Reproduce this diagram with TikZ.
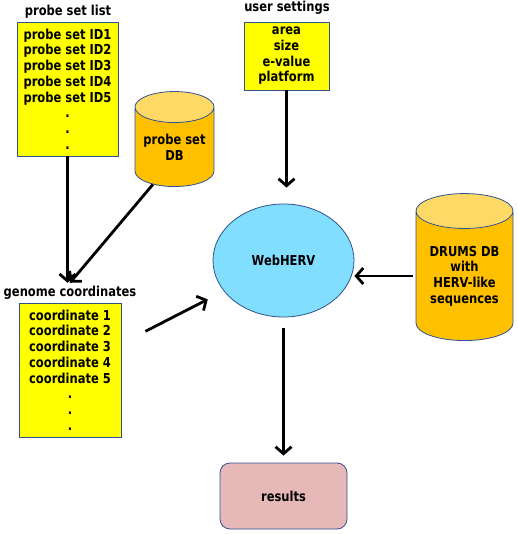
\documentclass[tikz,border=0pt]{standalone}
\usepackage{fontspec}
\setmainfont{DejaVu Sans}[FakeStretch=0.84]
\usetikzlibrary{shapes.geometric,arrows.meta}
\definecolor{edgeblue}{RGB}{47,82,143}
\definecolor{listyellow}{RGB}{255,255,0}
\definecolor{dbbody}{RGB}{255,192,0}
\definecolor{dbtop}{RGB}{255,217,102}
\definecolor{webblue}{RGB}{130,222,255}
\definecolor{respink}{RGB}{230,185,184}

\begin{document}
\begin{tikzpicture}[x=1pt,y=-1pt,
  every node/.style={font=\bfseries\fontsize{13.7}{15.7}\selectfont},
  list/.style={draw=edgeblue,fill=listyellow,thick,align=center,inner sep=0pt},
  db/.style={cylinder,shape border rotate=90,draw=edgeblue,thick,aspect=0.5,
    cylinder uses custom fill,cylinder body fill=dbbody,cylinder end fill=dbtop,
    align=center,inner sep=0pt},
  flow/.style={line width=2.8pt,-{Straight Barb[length=7pt,width=16pt]}}]
  \useasboundingbox (0,0) rectangle (517,534);

  \node (plistlabel) at (68,12) {probe set list};
  \node[list,minimum width=101,minimum height=134] (plist) at (67.5,89)
    {probe set ID1\\probe set ID2\\probe set ID3\\probe set ID4\\probe set ID5\\.\\.\\.};
  \node[db,minimum width=79,minimum height=95] (pdb) at (174.5,147) {probe set\\DB};
  \node (userlabel) at (287,8) {user settings};
  \node[list,minimum width=85,minimum height=68] (user) at (286.5,56)
    {area\\size\\e-value\\platform};
  \node[ellipse,draw=edgeblue,thick,fill=webblue,minimum width=141,minimum height=113] (web) at (283.5,260.5) {WebHERV};
  \node[db,minimum width=97,minimum height=147] (drums) at (464.5,276)
    {DRUMS DB\\with\\HERV-like\\sequences};
  \node (gclabel) at (70,293) {genome coordinates};
  \node[list,minimum width=102,minimum height=134] (coords) at (70,370)
    {coordinate 1\\coordinate 2\\coordinate 3\\coordinate 4\\coordinate 5\\.\\.\\.};
  \node[draw=edgeblue,thick,fill=respink,rounded corners=10,minimum width=127,minimum height=66] (res) at (283.5,496) {results};

  \draw[flow] (plist) -- (plist |- gclabel.north);
  \draw[flow] (pdb.240) -- (gclabel.north);
  \draw[flow,shorten >=16] (user) -- (user |- web.north);
  \draw[flow,shorten <=3] (drums.west) -- (drums.west -| web.east);
  \draw[flow,shorten <=27,shorten >=18] (coords) -- (web);
  \draw[flow,shorten <=11,shorten >=7] (web) -- (res);
\end{tikzpicture}
\end{document}
